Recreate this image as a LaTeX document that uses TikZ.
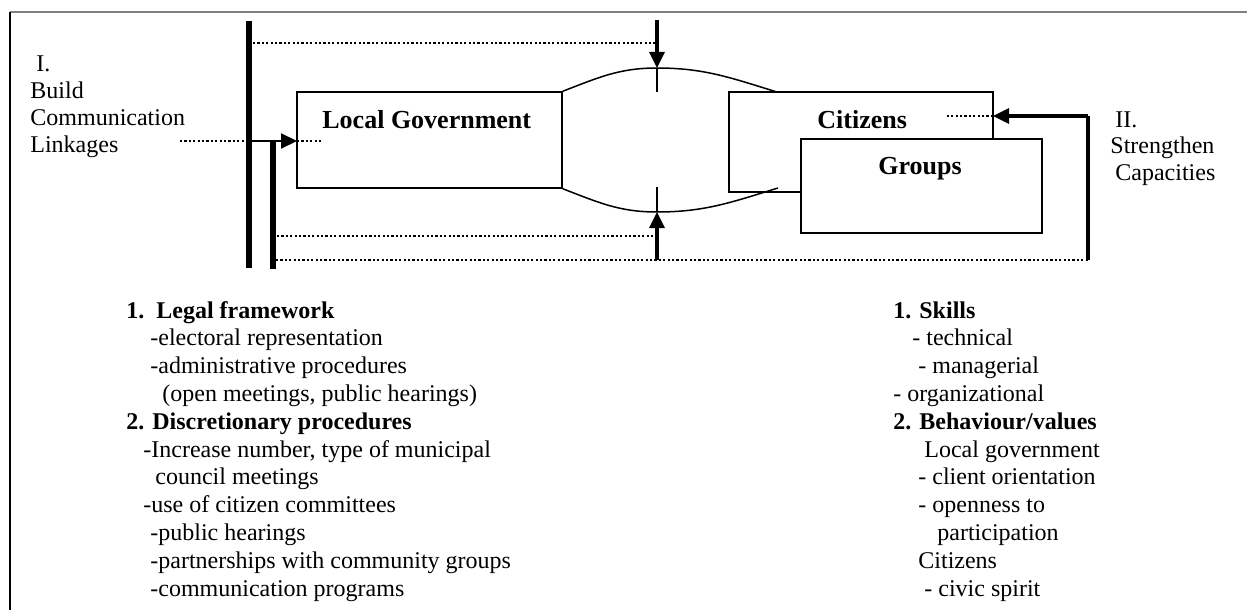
\documentclass[tikz,border=0pt]{standalone}
\usepackage{fontspec}
\setmainfont{Liberation Serif}
\usetikzlibrary{arrows.meta}
\begin{document}
\begin{tikzpicture}[x=0.5pt,y=-0.5pt,
  txt/.style={anchor=base west,inner sep=0pt,font=\fontsize{12}{14}\selectfont},
  btxt/.style={anchor=base west,inner sep=0pt,font=\fontsize{12}{14}\selectfont\bfseries},
  lbl/.style={anchor=base west,inner sep=0pt,font=\fontsize{13}{15}\selectfont\bfseries},
  boxx/.style={draw,line width=0.75pt,inner sep=0pt},
  dots/.style={line width=1.2pt,dash pattern=on 1.1pt off 1.1pt},
  bar/.style={line width=2.8pt},
  thin/.style={line width=0.75pt},
  arr/.style={line width=1.6pt,-{Triangle[length=8pt,width=7.5pt]}}
]
\useasboundingbox (0,0) rectangle (1247,610);
% frame
\draw[gray,line width=1pt] (10,12) -- (1247,12);
\draw[line width=0.75pt] (10,12) -- (10,610);

% boxes
\node[boxx,minimum width=132.5pt,minimum height=48pt] (lg) at (429.5,140) {};
\node[boxx,minimum width=132pt,minimum height=50pt] (cit) at (861,142) {};
\node[boxx,fill=white,minimum width=120.5pt,minimum height=47pt] (grp) at (921.5,186) {};
\node[lbl] (lgt) at (322,128) {Local Government};
\node[lbl] (citt) at (817,128) {Citizens};
\node[lbl] (grpt) at (878,175) {Groups};

% curves
\coordinate (ctop) at (657,68);
\coordinate (cbot) at (657,212);
\coordinate (cte) at (777,92);
\coordinate (cbe) at (778,188);
\draw[thin] (lg.north east) to[out=21,in=180] (ctop) to[out=0,in=163] (cte);
\draw[thin] (lg.south east) to[out=-21,in=180] (cbot) to[out=0,in=-163] (cbe);

% bars
\coordinate (b1t) at (249,21);
\coordinate (b1b) at (249,268);
\coordinate (b2t) at (273,140);
\coordinate (b2b) at (273,269);
\draw[bar] (b1t) -- (b1b);
\draw[bar] (b2t) -- (b2b);

% left arrow
\coordinate (la0) at (180,141);
\coordinate (la1) at (249,141);
\coordinate (la2) at (297,141);
\coordinate (la3) at (322,141);
\draw[dots] (la0) -- (la1);
\draw[line width=1.1pt,-{Triangle[length=8pt,width=7.5pt]}] (la1) -- (la2);
\draw[dots] (la2) -- (la3);

% top arrow
\coordinate (td0) at (253,43);
\coordinate (td1) at (655,43);
\coordinate (ta0) at (657,20);
\coordinate (tt) at (657,92);
\draw[dots] (td0) -- (td1);
\draw[arr] (ta0) -- (ctop);
\draw[thin] (ctop) -- (tt);

% bottom arrow
\coordinate (md0) at (277,236);
\coordinate (md1) at (655,236);
\coordinate (ba0) at (657,260);
\coordinate (bt) at (657,187);
\draw[dots] (md0) -- (md1);
\draw[arr] (ba0) -- (cbot);
\draw[thin] (cbot) -- (bt);

% bottom dotted line and right arrow
\coordinate (bd0) at (276,260);
\coordinate (rb) at (1088,260);
\coordinate (rt) at (1088,116);
\coordinate (rtip) at (993,116);
\coordinate (rd) at (947,116);
\draw[dots] (bd0) -- (rb);
\draw[line width=2.4pt] (rb) -- (rt);
\draw[arr] (rt) -- (rtip);
\draw[dots] (rtip) -- (rd);

% side labels
\node[txt] (l1) at (36,72) {I.};
\node[txt] (l2) at (30,99) {Build};
\node[txt] (l3) at (30,126) {Communication};
\node[txt] (l4) at (30,153) {Linkages};
\node[txt] (r1) at (1115,127) {II.};
\node[txt] (r2) at (1110,154) {Strengthen};
\node[txt] (r3) at (1115,180) {Capacities};

% left list
\node[btxt] (a1) at (126,318) {1.\ \ Legal framework};
\node[txt] (a2) at (150,345.8) {-electoral representation};
\node[txt] (a3) at (150,373.6) {-administrative procedures};
\node[txt] (a4) at (162,401.4) {(open meetings, public hearings)};
\node[btxt] (a5) at (126,429.2) {2. Discretionary procedures};
\node[txt] (a6) at (143,457) {-Increase number, type of municipal};
\node[txt] (a7) at (155,484.8) {council meetings};
\node[txt] (a8) at (143,512.6) {-use of citizen committees};
\node[txt] (a9) at (150,540.4) {-public hearings};
\node[txt] (a10) at (150,568.2) {-partnerships with community groups};
\node[txt] (a11) at (150,596) {-communication programs};

% right list
\node[btxt] (s1) at (893,318) {1. Skills};
\node[txt] (s2) at (912,345.8) {- technical};
\node[txt] (s3) at (918,373.6) {- managerial};
\node[txt] (s4) at (893,401.4) {- organizational};
\node[btxt] (s5) at (893,429.2) {2. Behaviour/values};
\node[txt] (s6) at (924,457) {Local government};
\node[txt] (s7) at (918,484.8) {- client orientation};
\node[txt] (s8) at (918,512.6) {- openness to};
\node[txt] (s9) at (937,540.4) {participation};
\node[txt] (s10) at (918,568.2) {Citizens};
\node[txt] (s11) at (924,596) {- civic spirit};
\end{tikzpicture}
\end{document}
